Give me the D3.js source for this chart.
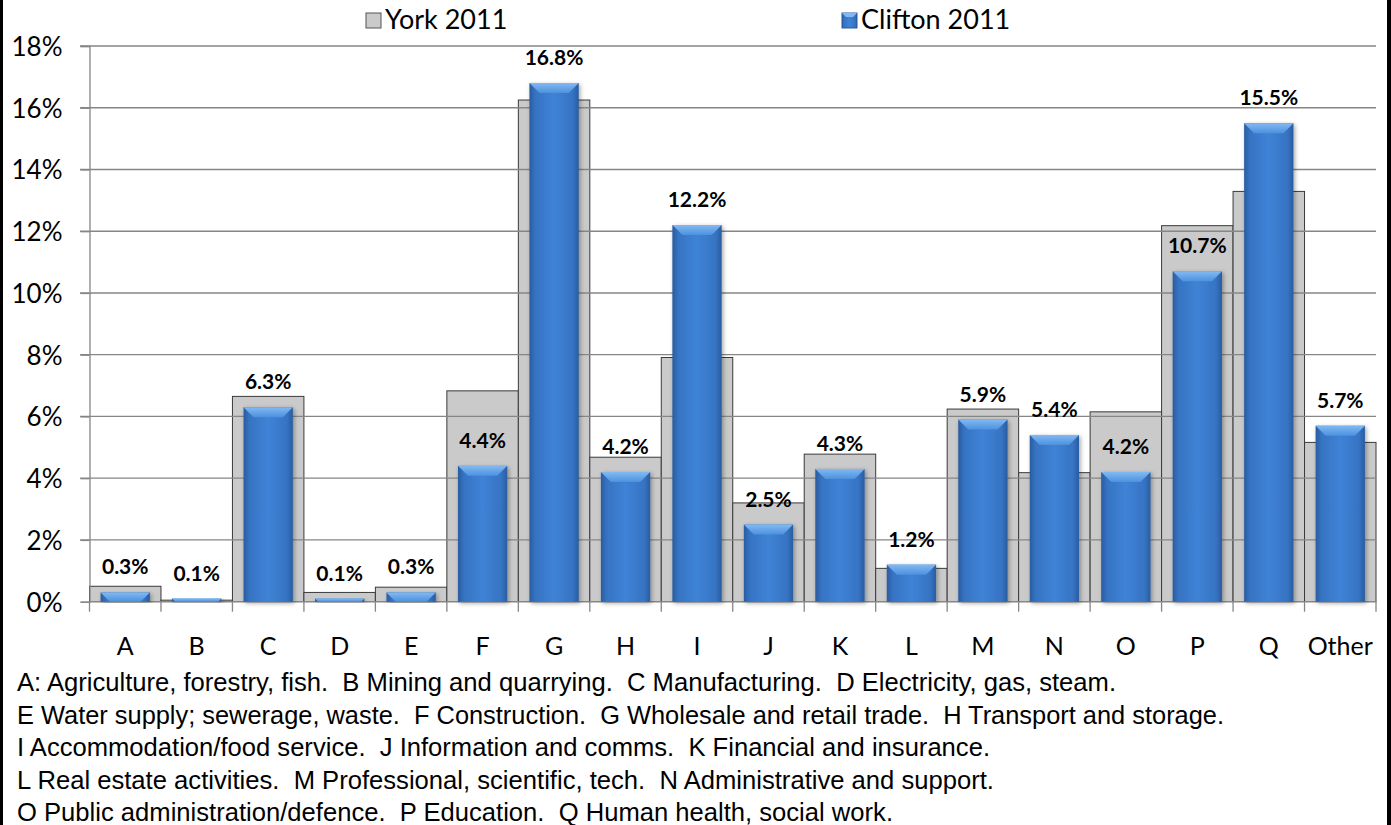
<!DOCTYPE html>
<html>
<head>
<meta charset="utf-8">
<script src="https://cdnjs.cloudflare.com/ajax/libs/d3/7.8.5/d3.min.js"></script>
<style>
  body { margin: 0; background: #fff; }
  svg { display: block; }
</style>
</head>
<body>
<div id="container"></div>
<script>
var width = 1391,
    height = 825;

// data
var categories = ["A","B","C","D","E","F","G","H","I","J","K","L","M","N","O","P","Q","Other"];
var york2011 = [0.50, 0.05, 6.65, 0.30, 0.47, 6.83, 16.25, 4.68, 7.91, 3.20, 4.78, 1.08, 6.24, 4.18, 6.15, 12.18, 13.29, 5.16];
var clifton2011 = [0.3, 0.1, 6.3, 0.1, 0.3, 4.4, 16.8, 4.2, 12.2, 2.5, 4.3, 1.2, 5.9, 5.4, 4.2, 10.7, 15.5, 5.7];
var yTicks = [0, 2, 4, 6, 8, 10, 12, 14, 16, 18];
var seriesNames = ["York 2011", "Clifton 2011"];
var footnotes = [
  "A: Agriculture, forestry, fish.  B Mining and quarrying.  C Manufacturing.  D Electricity, gas, steam.",
  "E Water supply; sewerage, waste.  F Construction.  G Wholesale and retail trade.  H Transport and storage.",
  "I Accommodation/food service.  J Information and comms.  K Financial and insurance.",
  "L Real estate activities.  M Professional, scientific, tech.  N Administrative and support.",
  "O Public administration/defence.  P Education.  Q Human health, social work."
];
var footWidths = [1099, 1207, 973, 977, 876];

var rows = categories.map(function(c, i) {
  return { cat: c, york: york2011[i], clifton: clifton2011[i] };
});

var svg = d3.select("#container").append("svg")
  .attr("width", width)
  .attr("height", height);

var defs = svg.append("defs");

var g1 = defs.append("linearGradient").attr("id", "blueGrad")
  .attr("x1", "0%").attr("x2", "100%").attr("y1", "0%").attr("y2", "0%");
[[0, "#2a5c9f"], [0.12, "#3673c3"], [0.5, "#3f83d6"], [0.88, "#3673c3"], [1, "#2a5c9f"]]
  .forEach(function(s) { g1.append("stop").attr("offset", s[0]).attr("stop-color", s[1]); });

var g2 = defs.append("linearGradient").attr("id", "bevelGrad")
  .attr("x1", "0%").attr("x2", "0%").attr("y1", "0%").attr("y2", "100%");
[[0, "#82b9f2"], [1, "#4d91de"]]
  .forEach(function(s) { g2.append("stop").attr("offset", s[0]).attr("stop-color", s[1]); });

var shadow = defs.append("filter").attr("id", "shadow")
  .attr("x", "-20%").attr("y", "-5%").attr("width", "140%").attr("height", "115%");
shadow.append("feDropShadow").attr("dx", 1.5).attr("dy", 1.5).attr("stdDeviation", 2)
  .attr("flood-color", "#000").attr("flood-opacity", 0.35);

var x = d3.scaleBand()
  .domain(categories)
  .range([89.5, 1376])
  .padding(0);

var y = d3.scaleLinear()
  .domain([0, 18])
  .range([601.7, 46]);

var inset = x.bandwidth() * 0.155;
var blueW = x.bandwidth() - 2 * inset;

// York bars (grey, full width)
svg.append("g")
  .selectAll("rect")
  .data(rows)
  .enter().append("rect")
  .attr("x", function(d) { return x(d.cat); })
  .attr("y", function(d) { return y(d.york); })
  .attr("width", x.bandwidth())
  .attr("height", function(d) { return y(0) - y(d.york); })
  .attr("fill", "#cacaca")
  .attr("stroke", "#3a3a3a")
  .attr("stroke-width", 1);

// gridlines
svg.append("g")
  .selectAll("line")
  .data(yTicks.slice(1))
  .enter().append("line")
  .attr("x1", 80).attr("x2", x.range()[1])
  .attr("y1", function(d) { return y(d); })
  .attr("y2", function(d) { return y(d); })
  .attr("stroke", "#868686")
  .attr("stroke-width", 1.3);

// y axis
var yAxis = svg.append("g")
  .attr("transform", "translate(89.5,0)")
  .call(d3.axisLeft(y).tickValues(yTicks).tickSize(9).tickFormat(function(d) { return d + "%"; }));
yAxis.select(".domain").attr("stroke", "#868686").attr("stroke-width", 1.3);
yAxis.selectAll(".tick line").attr("stroke", "#868686").attr("stroke-width", 1.3);
yAxis.selectAll("text")
  .attr("x", -27)
  .attr("dy", "0.36em")
  .style("font-family", "Lato, sans-serif")
  .style("font-size", "26px")
  .attr("fill", "#000");

// x axis line and boundary ticks
var xg = svg.append("g");
xg.append("line")
  .attr("x1", x.range()[0]).attr("x2", x.range()[1])
  .attr("y1", y(0)).attr("y2", y(0))
  .attr("stroke", "#868686").attr("stroke-width", 1.3);
xg.selectAll(".bt")
  .data(categories.concat(["_end"]))
  .enter().append("line")
  .attr("class", "bt")
  .attr("x1", function(d, i) { return x.range()[0] + i * x.step(); })
  .attr("x2", function(d, i) { return x.range()[0] + i * x.step(); })
  .attr("y1", y(0)).attr("y2", y(0) + 10)
  .attr("stroke", "#868686").attr("stroke-width", 1.3);
xg.selectAll("text")
  .data(categories)
  .enter().append("text")
  .attr("x", function(d) { return x(d) + x.bandwidth() / 2; })
  .attr("y", 655)
  .attr("text-anchor", "middle")
  .style("font-family", "Lato, sans-serif")
  .style("font-size", "25px")
  .text(function(d) { return d; });

// Clifton bars (blue, bevelled)
var blue = svg.append("g")
  .selectAll("g")
  .data(rows)
  .enter().append("g");

blue.append("rect")
  .attr("x", function(d) { return x(d.cat) + inset; })
  .attr("y", function(d) { return y(d.clifton); })
  .attr("width", blueW)
  .attr("height", function(d) { return y(0) - y(d.clifton); })
  .attr("fill", "url(#blueGrad)")
  .attr("filter", "url(#shadow)");

blue.append("path")
  .attr("fill", "url(#bevelGrad)")
  .attr("d", function(d) {
    var x0 = x(d.cat) + inset, x1 = x0 + blueW, t = y(d.clifton);
    var b = Math.min(10, y(0) - t);
    return "M" + x0 + "," + t + "L" + x1 + "," + t + "L" + (x1 - b) + "," + (t + b) +
      "L" + (x0 + b) + "," + (t + b) + "Z";
  });

// data labels
svg.append("g")
  .selectAll("text")
  .data(rows)
  .enter().append("text")
  .attr("x", function(d) { return x(d.cat) + x.bandwidth() / 2; })
  .attr("y", function(d) { return y(d.clifton) - 18; })
  .attr("text-anchor", "middle")
  .style("font-family", "Lato, sans-serif")
  .style("font-weight", "bold")
  .style("font-size", "21px")
  .text(function(d) { return d.clifton.toFixed(1) + "%"; });

// legend
var legX = [366, 842];
var leg = svg.append("g")
  .selectAll("g")
  .data(seriesNames)
  .enter().append("g")
  .attr("transform", function(d, i) { return "translate(" + legX[i] + ",13)"; });
leg.append("rect")
  .attr("width", 15).attr("height", 15)
  .attr("fill", function(d, i) { return i === 0 ? "#cacaca" : "url(#blueGrad)"; })
  .attr("stroke", function(d, i) { return i === 0 ? "#555" : "#2a5a9c"; })
  .attr("stroke-width", 1);
leg.filter(function(d, i) { return i === 1; }).append("path")
  .attr("d", "M0,0L15,0L11,4L4,4Z")
  .attr("fill", "#82b9f2");
leg.append("text")
  .attr("x", 19).attr("y", 16)
  .style("font-family", "Lato, sans-serif")
  .style("font-size", "27px")
  .text(function(d) { return d; });

// footnote (condensed Arial look)
svg.append("g")
  .selectAll("text")
  .data(footnotes)
  .enter().append("text")
  .attr("x", 17)
  .attr("y", function(d, i) { return 691 + i * 32.6; })
  .attr("textLength", function(d, i) { return footWidths[i]; })
  .attr("lengthAdjust", "spacingAndGlyphs")
  .style("font-family", "'Liberation Sans', Arial, sans-serif")
  .style("font-size", "25px")
  .style("white-space", "pre")
  .text(function(d) { return d; });

// frame edges
svg.append("rect").attr("x", 0).attr("y", 0).attr("width", 3).attr("height", height).attr("fill", "#000");
svg.append("rect").attr("x", width - 4).attr("y", 0).attr("width", 4).attr("height", height).attr("fill", "#000");
</script>
</body>
</html>
